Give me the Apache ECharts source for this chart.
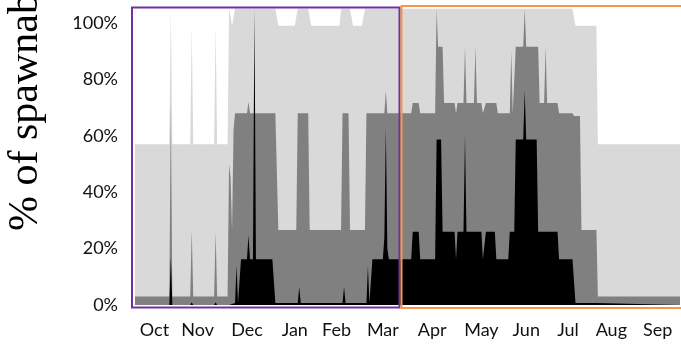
<!DOCTYPE html>
<html><head><meta charset="utf-8">
<script src="https://cdn.jsdelivr.net/npm/echarts@6/dist/echarts.min.js"></script>
<style>html,body{margin:0;padding:0;background:#fff}#c{width:681px;height:345px}</style>
</head><body><div id="c"></div>
<script>
// Day index from 1 October (0) to 30 September (365); values in percent.
var months = ['Oct','Nov','Dec','Jan','Feb','Mar','Apr','May','Jun','Jul','Aug','Sep'];
var monthLabelDays = [13, 42, 75, 107, 135, 166, 199, 232, 262, 290, 319, 350];
var yTicks = [0, 20, 40, 60, 80, 100];

// light grey layer [day, %]
var lightLayer = [[0,57],[23,57],[24,105],[25,57],[37,57],[38,99],[39,57],[53,57],[54,99],[55,57],[62,57],[63,105],[64,105],[65,99],[66,99],[67,105],[94,105],[96,99],[107,99],[109,105],[116,105],[118,99],[137,99],[138,105],[144,105],[146,99],[152,99],[154,105],[293,105],[295,99],[309,99],[310,57],[365,57]];
// mid grey layer [day, %]
var midLayer = [[0,3],[23,3],[24,72],[25,3],[37,3],[38,26.6],[39,3],[53,3],[54,26],[55,3],[62,3],[63,50],[64,45],[65,26.6],[66,62],[67,68],[75,68],[76,72],[77,68],[94,68],[96,26.6],[108,26.6],[109,68],[116,68],[117,26.6],[138,26.6],[139,68],[143,68],[144,26.6],[154,26.6],[155,68],[167,68],[168,76],[169,68],[185,68],[186,71.6],[190,71.6],[191,68],[201,68],[202,105],[203,91.6],[206,91.6],[207,71.6],[214,71.6],[215,68],[216,71.6],[220,71.6],[221,91.6],[222,71.6],[227,71.6],[228,91.6],[229,71.6],[232,71.6],[233,68],[234,68],[235,71.6],[242,71.6],[243,68],[251,68],[252,90],[253,68],[254,68],[255,91.6],[260,91.6],[261,105],[262,91.6],[270,91.6],[271,71.6],[274,71.6],[275,91.6],[276,71.6],[283,71.6],[284,68],[293,68],[294,67],[298,67],[299,26.6],[309,26.6],[310,3],[365,3]];
// black layer [day, %]
var blackLayer = [[0,0],[23,0],[24,17],[25,0],[37,0],[38,1],[39,0],[53,0],[54,1],[55,0],[63,0],[64,0.7],[67,0.7],[68,14],[69,0.7],[71,16.2],[75,16.2],[76,24.8],[77,16.2],[79,16.2],[80,105],[81,16.2],[92,16.2],[94,0.7],[109,0.7],[110,6.5],[111,0.7],[139,0.7],[140,6.5],[141,0.7],[155,0.7],[156,13.8],[157,0.7],[159,16.2],[166,16.2],[167,24],[168,63],[169,20],[170,16.2],[185,16.2],[186,26],[190,26],[191,16.2],[201,16.2],[202,58.7],[205,58.7],[206,26],[214,26],[215,16.2],[216,26],[220,26],[221,60],[222,26],[232,26],[233,16.2],[234,16.2],[235,26],[241,26],[242,16.2],[250,16.2],[251,26],[254,26],[255,58.7],[260,58.7],[261,76],[262,58.7],[269,58.7],[270,26],[283,26],[284,16.2],[293,16.2],[295,0.7],[309,0.7],[310,0],[365,0]];

var chart = echarts.init(document.getElementById('c'), null, {renderer:'canvas'});
var font = 'Lato';
function layer(data, color, z) {
  return {type:'line', data:data, symbol:'none', silent:true, z:z,
    lineStyle:{width:0, color:color}, itemStyle:{color:color},
    areaStyle:{color:color, opacity:1}};
}
chart.setOption({
  animation:false,
  grid:{left:135, right:1, top:8, bottom:40, containLabel:false},
  xAxis:{type:'value', min:0, max:365,
    axisLine:{show:false}, axisTick:{show:false}, splitLine:{show:false},
    axisLabel:{customValues:monthLabelDays, margin:16, color:'#111', fontFamily:font, fontSize:18,
      formatter:function(v){var best=0;for(var i=0;i<monthLabelDays.length;i++){if(Math.abs(monthLabelDays[i]-v)<Math.abs(monthLabelDays[best]-v))best=i;}return months[best];}}},
  yAxis:{type:'value', min:0, max:105.3,
    axisLine:{show:false}, axisTick:{show:false}, splitLine:{show:false},
    axisLabel:{customValues:yTicks, margin:17, color:'#111', fontFamily:font, fontSize:18,
      formatter:function(v){return Math.round(v)+'%';}}},
  series:[layer(lightLayer,'#D9D9D9',1), layer(midLayer,'#808080',2), layer(blackLayer,'#000000',3)],
  graphic:[
    {type:'rect', z:100, silent:true, shape:{x:132, y:7.5, width:267.5, height:300}, style:{fill:'none', stroke:'#7030A0', lineWidth:2}},
    {type:'rect', z:100, silent:true, shape:{x:401.5, y:6, width:290, height:302}, style:{fill:'none', stroke:'#F79646', lineWidth:2}},
    {type:'text', z:100, silent:true, x:26, y:231, rotation:Math.PI/2,
      style:{text:'% of spawnable habitat', fontFamily:'Liberation Serif', fontSize:42, fill:'#000', align:'left', verticalAlign:'middle'}}
  ]
});
</script></body></html>
